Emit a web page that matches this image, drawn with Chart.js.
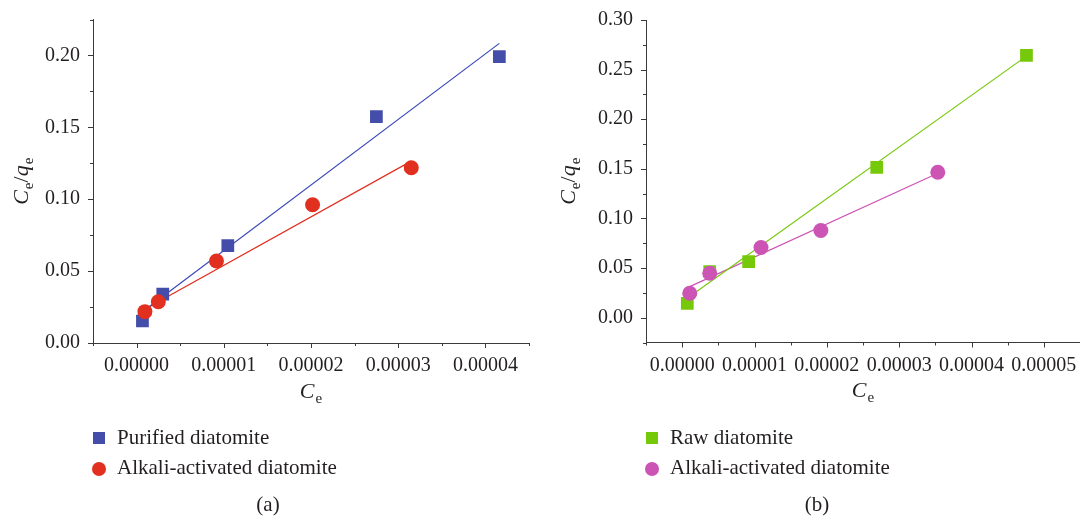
<!DOCTYPE html>
<html>
<head>
<meta charset="utf-8">
<script src="https://cdn.jsdelivr.net/npm/chart.js@4.4.1/dist/chart.umd.min.js"></script>
<style>
  body { margin: 0; background: #fff; }
  .wrap { position: relative; width: 1080px; height: 517px; overflow: hidden; }
  canvas { position: absolute; top: 0; }
  #chartA { left: 0; }
  #chartB { left: 540px; }
  .legend-text, .caption {
    position: absolute;
    font-family: "Liberation Serif", "DejaVu Serif", serif;
    font-size: 21px;
    line-height: 24px;
    color: #231f20;
    white-space: nowrap;
  }
  .caption { width: 60px; text-align: center; }
  .marker { position: absolute; }
  .square { width: 12px; height: 12px; }
  .circle { width: 14px; height: 14px; border-radius: 50%; }
</style>
</head>
<body>
<div class="wrap">
  <canvas id="chartA" width="540" height="517"></canvas>
  <canvas id="chartB" width="540" height="517"></canvas>

  <!-- legend (a) -->
  <div class="marker square" style="left:93px; top:432px; background:#444eaa;"></div>
  <div class="legend-text" style="left:117px; top:425px;">Purified diatomite</div>
  <div class="marker circle" style="left:92px; top:462px; background:#e1301f;"></div>
  <div class="legend-text" style="left:117px; top:455px;">Alkali-activated diatomite</div>
  <div class="caption" style="left:238px; top:492px;">(a)</div>

  <!-- legend (b) -->
  <div class="marker square" style="left:646px; top:432px; background:#76c80a;"></div>
  <div class="legend-text" style="left:670px; top:425px;">Raw diatomite</div>
  <div class="marker circle" style="left:645px; top:462px; background:#cc54b4;"></div>
  <div class="legend-text" style="left:670px; top:455px;">Alkali-activated diatomite</div>
  <div class="caption" style="left:787px; top:492px;">(b)</div>
</div>

<script>
// Linearised Langmuir data: Ce vs Ce/qe

// (a) purified diatomite
const purifiedCe    = [0.00000067, 0.0000030, 0.00001046, 0.0000275, 0.0000416];
const purifiedRatio = [0.0153, 0.0340, 0.0677, 0.1574, 0.1991];
const purifiedFitCe    = [0.00000079, 0.0000416];
const purifiedFitRatio = [0.0223, 0.2084];

// (a) alkali-activated diatomite
const alkaliACe    = [0.00000095, 0.00000249, 0.00000916, 0.00002018, 0.0000315];
const alkaliARatio = [0.0218, 0.0287, 0.0570, 0.0962, 0.1219];
const alkaliAFitCe    = [0.00000079, 0.0000315];
const alkaliAFitRatio = [0.0229, 0.1265];

// (b) raw diatomite
const rawCe    = [0.00000071, 0.00000381, 0.00000919, 0.0000269, 0.0000476];
const rawRatio = [0.0145, 0.0465, 0.0566, 0.1515, 0.2643];
const rawFitCe    = [0.0000007, 0.0000476];
const rawFitRatio = [0.0196, 0.2636];

// (b) alkali-activated diatomite
const alkaliBCe    = [0.00000105, 0.00000381, 0.0000109, 0.00001917, 0.00003534];
const alkaliBRatio = [0.0246, 0.0448, 0.0707, 0.0879, 0.1465];
const alkaliBFitCe    = [0.00000105, 0.00003534];
const alkaliBFitRatio = [0.0313, 0.1455];

const AXIS_COLOR = '#3a3a3a';
const TEXT_COLOR = '#231f20';
const FONT = '"Liberation Serif", "DejaVu Serif", serif';

const MAJOR_TICK = 5;
const MINOR_TICK = 3;

const toPoints = (xs, ys) => xs.map((x, i) => ({ x: x, y: ys[i] }));

// every other tick is a labelled major one
function isMajor(value, step) {
    return Math.abs(Math.round(value / step)) % 2 === 0;
}

// tick marks are drawn by the axisDecor plugin; the grid tickLength only
// reserves the gap between axis line and labels
function scaleOptions(min, max, step, digits, fixedSize, labelGap, isX) {
    return {
        type: 'linear',
        min: min,
        max: max,
        afterFit: s => { if (isX) s.height = fixedSize; else s.width = fixedSize; },
        border: { display: true, color: AXIS_COLOR, width: 1 },
        grid: {
            display: true,
            drawOnChartArea: false,
            drawTicks: true,
            tickLength: labelGap,
            tickColor: 'rgba(0,0,0,0)'
        },
        ticks: {
            stepSize: step,
            autoSkip: false,
            maxRotation: 0,
            padding: 0,
            color: TEXT_COLOR,
            font: { family: FONT, size: 20 },
            callback: value => isMajor(value, step) ? Number(value).toFixed(digits) : ''
        }
    };
}

// draws a run of text pieces (italic letters, subscripts) centred on 0
function drawRichText(ctx, parts) {
    let total = 0;
    parts.forEach(p => { ctx.font = p.font; p.w = ctx.measureText(p.t).width; total += p.w + (p.gap || 0); });
    let x = -total / 2;
    parts.forEach(p => {
        ctx.font = p.font;
        ctx.fillText(p.t, x, p.dy || 0);
        x += p.w + (p.gap || 0);
    });
}

const mainItalic = 'italic 22px ' + FONT;
const mainUpright = '22px ' + FONT;
const subFont = '15px ' + FONT;

const xTitleParts = [
    { t: 'C', font: mainItalic, gap: 1 },
    { t: 'e', font: subFont, dy: 5 }
];
const yTitleParts = [
    { t: 'C', font: mainItalic, gap: 1 },
    { t: 'e', font: subFont, dy: 5 },
    { t: '/', font: mainUpright },
    { t: 'q', font: mainItalic, gap: 1 },
    { t: 'e', font: subFont, dy: 5 }
];

// outward major/minor tick marks plus the axis titles
const axisDecor = {
    id: 'axisDecor',
    afterDraw(chart, args, opts) {
        const ctx = chart.ctx;
        const area = chart.chartArea;
        const xs = chart.scales.x, ys = chart.scales.y;
        ctx.save();
        ctx.strokeStyle = AXIS_COLOR;
        ctx.lineWidth = 1;
        ctx.beginPath();
        xs.ticks.forEach(t => {
            const len = isMajor(t.value, opts.xStep) ? MAJOR_TICK : MINOR_TICK;
            const px = Math.round(xs.getPixelForValue(t.value)) + 0.5;
            ctx.moveTo(px, area.bottom);
            ctx.lineTo(px, area.bottom + len);
        });
        ys.ticks.forEach(t => {
            const len = isMajor(t.value, opts.yStep) ? MAJOR_TICK : MINOR_TICK;
            const py = Math.round(ys.getPixelForValue(t.value)) + 0.5;
            ctx.moveTo(area.left, py);
            ctx.lineTo(area.left - len, py);
        });
        ctx.stroke();

        ctx.fillStyle = TEXT_COLOR;
        ctx.textBaseline = 'alphabetic';
        ctx.textAlign = 'left';

        ctx.save();
        ctx.translate((area.left + area.right) / 2, opts.xTitleY);
        drawRichText(ctx, xTitleParts);
        ctx.restore();

        ctx.save();
        ctx.translate(opts.yTitleX, (area.top + area.bottom) / 2);
        ctx.rotate(-Math.PI / 2);
        drawRichText(ctx, yTitleParts);
        ctx.restore();

        ctx.restore();
    }
};

function makeChart(canvasId, series, axes, layout, decor) {
    const datasets = [];
    series.forEach(s => {
        datasets.push({
            type: 'scatter',
            data: toPoints(s.xs, s.ys),
            pointStyle: s.style,
            pointRadius: s.radius,
            backgroundColor: s.color,
            borderWidth: 0,
            order: s.order
        });
        datasets.push({
            type: 'line',
            data: toPoints(s.fitXs, s.fitYs),
            borderColor: s.lineColor,
            borderWidth: 1.2,
            pointRadius: 0,
            fill: false,
            order: 5
        });
    });

    return new Chart(document.getElementById(canvasId), {
        type: 'scatter',
        data: { datasets: datasets },
        options: {
            responsive: false,
            animation: false,
            devicePixelRatio: 1,
            // plot edges are set by padding alone, not by marker size
            layout: { padding: layout, autoPadding: false },
            scales: { x: axes.x, y: axes.y },
            plugins: {
                legend: { display: false },
                tooltip: { enabled: false },
                axisDecor: decor
            }
        },
        plugins: [axisDecor]
    });
}

makeChart('chartA', [
    { xs: purifiedCe, ys: purifiedRatio, fitXs: purifiedFitCe, fitYs: purifiedFitRatio,
      style: 'rect', radius: 9, color: '#444eaa', lineColor: '#3a46b8', order: 2 },
    { xs: alkaliACe, ys: alkaliARatio, fitXs: alkaliAFitCe, fitYs: alkaliAFitRatio,
      style: 'circle', radius: 7.5, color: '#e1301f', lineColor: '#e1301f', order: 1 }
], {
    x: scaleOptions(-0.000005, 0.000045, 0.000005, 5, 60, 11, true),
    y: scaleOptions(0, 0.225, 0.025, 2, 93, 13, false)
}, { left: 0, top: 19.5, right: 11, bottom: 114 },
   { xStep: 0.000005, yStep: 0.025, xTitleY: 398, yTitleX: 28 });

makeChart('chartB', [
    { xs: rawCe, ys: rawRatio, fitXs: rawFitCe, fitYs: rawFitRatio,
      style: 'rect', radius: 9, color: '#76c80a', lineColor: '#76c80a', order: 2 },
    { xs: alkaliBCe, ys: alkaliBRatio, fitXs: alkaliBFitCe, fitYs: alkaliBFitRatio,
      style: 'circle', radius: 7.5, color: '#cc54b4', lineColor: '#cc54b4', order: 1 }
], {
    x: scaleOptions(-0.000005, 0.000055, 0.000005, 5, 60, 11, true),
    y: scaleOptions(-0.025, 0.30, 0.025, 2, 106, 13, false)
}, { left: 0, top: 20, right: 0, bottom: 114.5 },
   { xStep: 0.000005, yStep: 0.025, xTitleY: 397, yTitleX: 35 });
</script>
</body>
</html>
